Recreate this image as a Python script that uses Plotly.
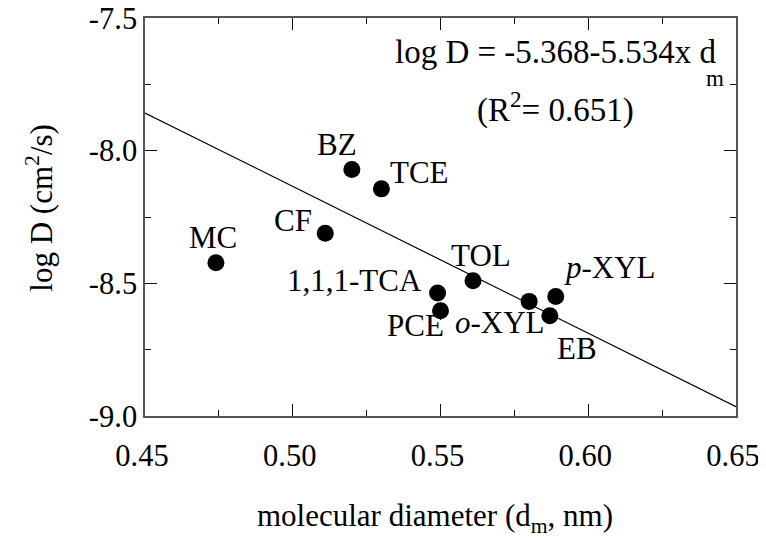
import plotly.graph_objects as go

compounds = ["MC", "CF", "BZ", "TCE", "1,1,1-TCA", "PCE", "TOL", "<i>o</i>-XYL", "<i>p</i>-XYL", "EB"]
diam = [0.474, 0.511, 0.520, 0.530, 0.549, 0.550, 0.561, 0.580, 0.589, 0.587]
logD = [-8.422, -8.311, -8.071, -8.144, -8.536, -8.603, -8.490, -8.568, -8.550, -8.622]

fit_x = [0.45, 0.65]
fit_y = [-7.858, -8.965]

x_tickvals = [0.45, 0.50, 0.55, 0.60, 0.65]
x_ticktext = ["0.45", "0.50", "0.55", "0.60", "0.65"]
y_tickvals = [-9.0, -8.5, -8.0, -7.5]
y_ticktext = ["-9.0", "-8.5", "-8.0", "-7.5"]

# label offsets in pixels (layout only)
label_dx = [-3, -32, -15, 38, -83, -25, 8, -29, 54, 27]
label_dy = [25, 13, 25, 16, 12, -15, 25, -21, 29, -33]

FONT = "Liberation Serif"
FS = 31
FT = 30.5
FE = 33

fig = go.Figure()
fig.add_trace(go.Scatter(x=fit_x, y=fit_y, mode="lines",
                         line=dict(color="black", width=1.2), showlegend=False))
fig.add_trace(go.Scatter(x=diam, y=logD, mode="markers",
                         marker=dict(color="black", size=17), showlegend=False))

for name, x, y, dx, dy in zip(compounds, diam, logD, label_dx, label_dy):
    fig.add_annotation(x=x, y=y, text=name, showarrow=False, xshift=dx, yshift=dy,
                       xanchor="center", yanchor="middle",
                       font=dict(family=FONT, size=FS, color="black"))

fig.add_annotation(xref="paper", yref="paper", x=0.4196, y=0.9146,
                   xanchor="left", yanchor="middle",
                   text="log D = -5.368-5.534x d", showarrow=False,
                   font=dict(family=FONT, size=FE, color="black"))
fig.add_annotation(xref="paper", yref="paper", x=0.9645, y=0.849,
                   xanchor="center", yanchor="middle",
                   text="m", showarrow=False,
                   font=dict(family=FONT, size=23, color="black"))
fig.add_annotation(xref="paper", yref="paper", x=0.694, y=0.776,
                   xanchor="center", yanchor="middle",
                   text="(R<sup>2</sup>= 0.651)", showarrow=False,
                   font=dict(family=FONT, size=FE, color="black"))

# axis titles
fig.add_annotation(xref="paper", yref="paper", x=0.491, y=-0.256,
                   xanchor="center", yanchor="middle",
                   text="molecular diameter (d<sub>m</sub>, nm)", showarrow=False,
                   font=dict(family=FONT, size=FS, color="black"))
fig.add_annotation(xref="paper", yref="paper", x=-0.178, y=0.523, textangle=-90,
                   xanchor="center", yanchor="middle",
                   text="log D (cm<sup>2</sup>/s)", showarrow=False,
                   font=dict(family=FONT, size=FS, color="black"))

axcommon = dict(showgrid=False, zeroline=False, showline=True, linecolor="#555",
                linewidth=1.5, mirror="allticks", ticks="inside", tickcolor="#111",
                tickwidth=1.3, ticklen=12, automargin=False, ticklabeloverflow="allow",
                tickfont=dict(family=FONT, size=FT, color="black"))

xminor = dict(ticks="inside", dtick=0.025, tick0=0.45, ticklen=6, tickcolor="#111", tickwidth=1.3)
yminor = dict(ticks="inside", dtick=0.25, tick0=-9.0, ticklen=6, tickcolor="#111", tickwidth=1.3)

fig.update_layout(
    xaxis=dict(range=[0.45, 0.65], tickvals=x_tickvals, ticktext=x_ticktext,
               minor=xminor, ticklabelstandoff=12, ticklabelshift=-3, **axcommon),
    yaxis=dict(range=[-9.0, -7.5], tickvals=y_tickvals, ticktext=y_ticktext,
               minor=yminor, ticklabelstandoff=0, **axcommon),
    width=758, height=539, plot_bgcolor="white", paper_bgcolor="white",
    margin=dict(l=137, r=30, t=10, b=131))

fig.write_html("out.html")
